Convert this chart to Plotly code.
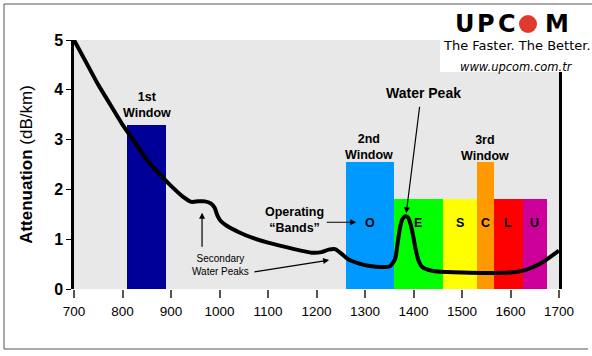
import plotly.graph_objects as go

# ---------------- data ----------------
wavelength = [700, 725, 750, 775, 800, 825, 850, 875, 900, 925, 942, 956, 970, 982, 990, 996, 1003,
              1015, 1040, 1070, 1100, 1150, 1190, 1210, 1225, 1238, 1250, 1265, 1285, 1310, 1335,
              1352, 1362, 1367, 1372, 1377, 1383, 1389, 1394, 1399, 1404, 1410, 1418, 1440, 1470,
              1500, 1550, 1600, 1630, 1660, 1700]
attenuation = [5.0, 4.55, 4.1, 3.7, 3.3, 2.95, 2.6, 2.32, 2.07, 1.85, 1.75, 1.76, 1.76, 1.72, 1.63,
               1.47, 1.36, 1.27, 1.14, 1.02, 0.93, 0.81, 0.73, 0.74, 0.79, 0.8, 0.72, 0.6, 0.52,
               0.46, 0.44, 0.46, 0.6, 0.9, 1.22, 1.4, 1.46, 1.43, 1.3, 1.08, 0.82, 0.58, 0.44,
               0.36, 0.34, 0.33, 0.32, 0.33, 0.38, 0.5, 0.77]

band_labels = ["", "O", "E", "S", "C", "L", "U"]
band_start = [810, 1260, 1360, 1460, 1530, 1565, 1625]
band_end = [890, 1360, 1460, 1530, 1565, 1625, 1675]
band_top = [3.3, 2.55, 1.8, 1.8, 2.55, 1.8, 1.8]
band_colors = ["#000099", "#0099FF", "#00FF00", "#FFFF00", "#FF9900", "#FF0000", "#CC0099"]

x_ticks = [700, 800, 900, 1000, 1100, 1200, 1300, 1400, 1500, 1600, 1700]
y_ticks = [0, 1, 2, 3, 4, 5]

# ---------------- figure ----------------
W, H = 592, 356
L, R, T, B = 74, 33, 40, 67
PW, PH = W - L - R, H - T - B


def px(xp):
    return (xp - L) / PW


def py(yp):
    return (H - B - yp) / PH


fig = go.Figure()

fig.add_trace(go.Bar(
    x=[(s + e) / 2 for s, e in zip(band_start, band_end)],
    y=band_top,
    width=[e - s for s, e in zip(band_start, band_end)],
    marker=dict(color=band_colors, line=dict(width=0)),
    hoverinfo="skip",
    showlegend=False,
))

fig.add_trace(go.Scatter(
    x=wavelength, y=attenuation, mode="lines",
    line=dict(color="black", width=4, shape="spline", smoothing=0.6),
    cliponaxis=False, showlegend=False, hoverinfo="skip",
))

ann = []
bold = dict(family="Liberation Sans, Arial, sans-serif", size=12.5, color="black")

# band letters
for lab, s, e in zip(band_labels, band_start, band_end):
    if lab:
        ann.append(dict(x=(s + e) / 2, y=1.33, text="<b>%s</b>" % lab, showarrow=False,
                        font=bold, xanchor="center", yanchor="middle"))

ann.append(dict(x=850, y=3.69, text="<b>1st<br>Window</b>", showarrow=False, font=bold))
ann.append(dict(x=1308, y=2.85, text="<b>2nd<br>Window</b>", showarrow=False, font=bold))
ann.append(dict(x=1547, y=2.83, text="<b>3rd<br>Window</b>", showarrow=False, font=bold))
ann.append(dict(x=1420, y=3.94, text="<b>Water Peak</b>", showarrow=False,
                font=dict(family="Liberation Sans, Arial, sans-serif", size=14, color="black")))
ann.append(dict(x=1154, y=1.39, text="<b>Operating<br>“Bands”</b>", showarrow=False, font=bold))
ann.append(dict(x=1003, y=0.49, text="Secondary<br>Water Peaks", showarrow=False,
                font=dict(family="Liberation Sans, Arial, sans-serif", size=10, color="black")))

# arrows
arrow_common = dict(text="", showarrow=True, arrowhead=2, arrowsize=1, arrowwidth=1.2,
                    arrowcolor="black", axref="x", ayref="y", xref="x", yref="y", standoff=0)
ann.append(dict(x=1385, y=1.52, ax=1413, ay=3.69, **arrow_common))
ann.append(dict(x=1282, y=1.34, ax=1218, ay=1.34, **arrow_common))
ann.append(dict(x=964, y=1.53, ax=964, ay=0.82, **arrow_common))
ann.append(dict(x=1226, y=0.58, ax=1069, ay=0.34, **arrow_common))

# logo
logo_font = dict(family="DejaVu Sans, sans-serif", size=24, color="black")
for ch, xp in zip(["U", "P", "C", "M"], [465, 486, 507, 556.5]):
    ann.append(dict(xref="paper", yref="paper", x=px(xp), y=py(24), text="<b>%s</b>" % ch,
                    showarrow=False, font=logo_font, xanchor="center", yanchor="middle",
                    borderpad=0))
ann.append(dict(xref="paper", yref="paper", x=px(516.5), y=py(46), text="The Faster. The Better.",
                showarrow=False, font=dict(family="DejaVu Sans, sans-serif", size=13, color="black"),
                xanchor="center", yanchor="middle"))
ann.append(dict(xref="paper", yref="paper", x=px(516), y=py(66.5), text="<i>www.upcom.com.tr</i>",
                showarrow=False, font=dict(family="DejaVu Sans, sans-serif", size=11.5, color="black"),
                xanchor="center", yanchor="middle"))

shapes = [
    # logo white box
    dict(type="rect", xref="paper", yref="paper", x0=px(440), x1=px(600), y0=py(72), y1=py(5),
         fillcolor="white", line=dict(width=0), layer="above"),
    # logo red dot
    dict(type="circle", xref="paper", yref="paper", x0=px(519), x1=px(537), y0=py(33), y1=py(15),
         fillcolor="#E03A2F", line=dict(width=0), layer="above"),
    # outer frame lines
    dict(type="line", xref="paper", yref="paper", x0=px(4), x1=px(600), y0=py(4), y1=py(4),
         line=dict(color="#555555", width=1)),
    dict(type="line", xref="paper", yref="paper", x0=px(4), x1=px(4), y0=py(4), y1=py(349),
         line=dict(color="#555555", width=1)),
    dict(type="line", xref="paper", yref="paper", x0=px(4), x1=px(588), y0=py(349), y1=py(349),
         line=dict(color="#555555", width=1)),
]

fig.update_layout(
    width=W, height=H,
    margin=dict(l=L, r=R, t=T, b=B, pad=0),
    paper_bgcolor="white",
    plot_bgcolor="#E8E8E8",
    showlegend=False,
    bargap=0,
    annotations=ann,
    shapes=shapes,
    xaxis=dict(range=[700, 1700], tickvals=x_ticks, ticktext=[str(v) for v in x_ticks],
               showgrid=False, zeroline=False, showline=False, automargin=False,
               ticks="outside", ticklen=8, tickwidth=1.5, tickcolor="#555555",
               ticklabelstandoff=2,
               tickfont=dict(family="Liberation Sans, Arial, sans-serif", size=13.5, color="black")),
    yaxis=dict(range=[0, 5], tickvals=y_ticks, ticktext=[str(v) for v in y_ticks],
               showgrid=False, zeroline=False, showline=True, linecolor="black", linewidth=2.5,
               mirror=True, automargin=False,
               ticks="outside", ticklen=5, tickwidth=1, tickcolor="black",
               tickfont=dict(family="Liberation Sans, Arial, sans-serif", size=16, color="black",
                             weight="bold"),
               title=dict(text="<b>Attenuation</b> (dB/km)", standoff=18,
                          font=dict(family="Liberation Sans, Arial, sans-serif", size=17,
                                    color="black"))),
)

fig.write_html("out.html", config={"displayModeBar": False},
               post_script="document.body.style.margin='0';")
